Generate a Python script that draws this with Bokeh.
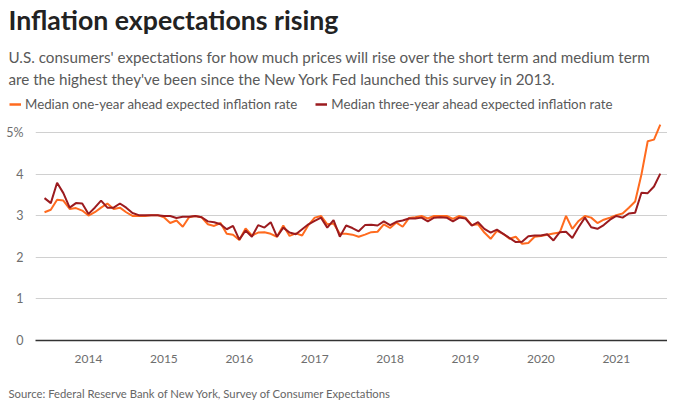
from bokeh.plotting import figure
from bokeh.layouts import column
from bokeh.models import FixedTicker, ColumnDataSource, Legend, LegendItem, Range1d
from bokeh.core.properties import value
from bokeh.embed import file_html
from bokeh.resources import INLINE

# Monthly data, June 2013 .. August 2021
start_year = 2013
start_month = 6
one_year = [3.09, 3.15, 3.39, 3.37, 3.17, 3.19, 3.13, 3.01, 3.09, 3.20,
            3.30, 3.17, 3.20, 3.09, 3.00, 3.00, 3.00, 3.02, 3.02, 2.97,
            2.83, 2.89, 2.74, 2.97, 3.00, 2.97, 2.80, 2.76, 2.83, 2.57,
            2.55, 2.42, 2.70, 2.53, 2.60, 2.61, 2.57, 2.50, 2.77, 2.52,
            2.58, 2.53, 2.78, 2.96, 3.00, 2.80, 2.82, 2.57, 2.57, 2.55,
            2.50, 2.55, 2.61, 2.62, 2.80, 2.71, 2.84, 2.74, 2.95, 2.97,
            3.00, 2.94, 3.00, 3.00, 3.00, 2.93, 3.00, 2.96, 2.78, 2.80,
            2.60, 2.45, 2.64, 2.57, 2.45, 2.50, 2.33, 2.35, 2.50, 2.52,
            2.55, 2.58, 2.60, 3.00, 2.69, 2.88, 3.00, 2.96, 2.83, 2.91,
            2.96, 3.02, 3.06, 3.20, 3.35, 4.00, 4.80, 4.84, 5.20]
three_year = [3.43, 3.31, 3.80, 3.55, 3.20, 3.31, 3.30, 3.05, 3.20, 3.37,
              3.20, 3.20, 3.30, 3.20, 3.07, 3.02, 3.02, 3.02, 3.02, 3.00,
              3.00, 2.95, 2.98, 2.98, 3.00, 2.97, 2.87, 2.85, 2.80, 2.68,
              2.76, 2.43, 2.65, 2.50, 2.78, 2.72, 2.85, 2.50, 2.72, 2.60,
              2.56, 2.68, 2.80, 2.88, 2.96, 2.72, 2.90, 2.50, 2.77, 2.71,
              2.63, 2.78, 2.79, 2.77, 2.87, 2.78, 2.86, 2.89, 2.94, 2.94,
              2.96, 2.87, 2.96, 2.97, 2.96, 2.87, 2.96, 2.94, 2.77, 2.85,
              2.69, 2.60, 2.67, 2.57, 2.47, 2.37, 2.38, 2.51, 2.53, 2.53,
              2.56, 2.41, 2.61, 2.62, 2.47, 2.73, 2.96, 2.73, 2.69, 2.78,
              2.91, 3.00, 2.96, 3.06, 3.08, 3.56, 3.55, 3.71, 4.02]
year_ticks = [2014, 2015, 2016, 2017, 2018, 2019, 2020, 2021]
y_ticks = [0, 1, 2, 3, 4, 5]
y_labels = {0: "0", 1: "1", 2: "2", 3: "3", 4: "4", 5: "5%"}

title_text = "Inflation expectations rising"
subtitle_lines = [
    "U.S. consumers' expectations for how much prices will rise over the short term and medium term",
    "are the highest they've been since the New York Fed launched this survey in 2013.",
]
legend_labels = ["Median one-year ahead expected inflation rate",
                 "Median three-year ahead expected inflation rate"]
source_text = "Source: Federal Reserve Bank of New York, Survey of Consumer Expectations"

ORANGE = "#ff6b1f"
DARKRED = "#9b1b1f"
FONT = "Lato"
W = 667
HH = 112          # header height
HF = 30           # footer height
HM = 404 - HH - HF  # main chart height


def blank_panel(height):
    f = figure(width=W, height=height, output_backend="svg", toolbar_location=None,
               x_range=Range1d(0, W), y_range=Range1d(height, 0),
               x_axis_location=None, y_axis_location=None,
               min_border_left=0, min_border_right=0, min_border_top=0,
               min_border_bottom=0)
    f.frame_align = False
    f.outline_line_color = None
    f.grid.grid_line_color = None
    f.background_fill_color = "white"
    f.border_fill_color = "white"
    return f


# ---------- header: title, subtitle, legend ----------
hdr = blank_panel(HH)
hdr.text(x=[8], y=[19], text=[title_text], text_font=value(FONT),
         text_font_size=value("26.7px"), text_font_style="bold",
         text_color="#222222", text_baseline="middle", text_align="left")
hdr.text(x=[8, 8], y=[56, 78], text=subtitle_lines, text_font=value(FONT),
         text_font_size=value("15.2px"), text_color="#595959",
         text_baseline="middle", text_align="left")

# legend renderers (kept outside the visible header range)
l1 = hdr.line(x=[-20, -10], y=[-20, -20], line_color=ORANGE, line_width=2.5)
l2 = hdr.line(x=[-20, -10], y=[-20, -20], line_color=DARKRED, line_width=2.5)
legend = Legend(items=[LegendItem(label=legend_labels[0], renderers=[l1]),
                       LegendItem(label=legend_labels[1], renderers=[l2])],
                orientation="horizontal", location=(9, 0),
                label_text_font=FONT, label_text_font_size="13.3px",
                label_text_color="#595959", glyph_width=12, glyph_height=14,
                label_standoff=4, spacing=18, padding=0, margin=0,
                label_height=14,
                border_line_color=None, background_fill_alpha=0)
hdr.add_layout(legend, "center")

# ---------- main chart ----------
xs = [start_year + (start_month - 1 + i) / 12.0 for i in range(len(one_year))]
src = ColumnDataSource(dict(x=xs, one=one_year, three=three_year))

p = figure(width=W, height=HM, output_backend="svg", toolbar_location=None,
           x_range=(2013.297, 2021.679), y_range=(0, 5.3),
           min_border_left=35, min_border_right=0, min_border_top=8,
           min_border_bottom=HM - 8 - 220)
p.frame_align = False
p.outline_line_color = None
p.background_fill_color = "white"
p.border_fill_color = "white"

p.line("x", "one", source=src, line_color=ORANGE, line_width=2)
p.line("x", "three", source=src, line_color=DARKRED, line_width=2)

p.xaxis.ticker = FixedTicker(ticks=year_ticks)
p.xaxis.major_label_overrides = {t: str(t) for t in year_ticks}
p.xaxis.major_tick_line_color = None
p.xaxis.minor_tick_line_color = None
p.xaxis.axis_line_color = "#333333"
p.xaxis.axis_line_width = 1.5
p.xaxis.major_label_text_font = FONT
p.xaxis.major_label_text_font_size = "12px"
p.xaxis.major_label_text_color = "#6e6e6e"
p.xaxis.major_label_standoff = 8

p.yaxis.ticker = FixedTicker(ticks=y_ticks)
p.yaxis.major_label_overrides = y_labels
p.yaxis.major_tick_line_color = None
p.yaxis.minor_tick_line_color = None
p.yaxis.axis_line_color = None
p.yaxis.major_label_text_font = FONT
p.yaxis.major_label_text_font_size = "12.5px"
p.yaxis.major_label_text_color = "#6e6e6e"
p.yaxis.major_label_standoff = 6

p.xgrid.grid_line_color = None
p.ygrid.ticker = FixedTicker(ticks=[1, 2, 3, 4, 5])
p.ygrid.grid_line_color = "#d0d0d0"
p.ygrid.grid_line_width = 1

# ---------- footer: source ----------
ftr = blank_panel(HF)
ftr.text(x=[8], y=[19], text=[source_text], text_font=value(FONT),
         text_font_size=value("11.3px"), text_color="#666666",
         text_baseline="middle", text_align="left")

layout = column(hdr, p, ftr, spacing=0)
open("out.html", "w").write(file_html(layout, INLINE))
